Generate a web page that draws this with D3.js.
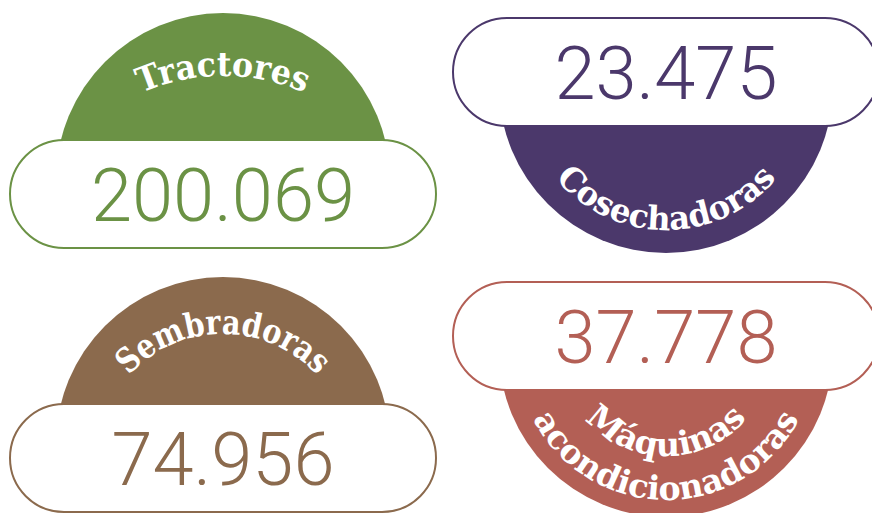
<!DOCTYPE html>
<html>
<head>
<meta charset="utf-8">
<script src="https://cdn.jsdelivr.net/npm/d3@7"></script>
<style>
  body { margin: 0; background: #fff; }
</style>
</head>
<body>
<script>
// datos
var categorias = ["Tractores", "Cosechadoras", "Sembradoras", "Máquinas acondicionadoras"];
var valores = [200069, 23475, 74956, 37778];
var etiquetas = [["Tractores"], ["Cosechadoras"], ["Sembradoras"], ["Máquinas", "acondicionadoras"]];
var colores = ["#6b9245", "#4b386b", "#8b6a4d", "#b35f55"];

var width = 872, height = 513;

var es = d3.formatLocale({decimal: ",", thousands: ".", grouping: [3], currency: ["", "€"]});
var fmt = es.format(",d");

var color = d3.scaleOrdinal().domain(categorias).range(colores);
var colX = d3.scalePoint().domain([0, 1]).range([223, 666]);
var rowY = d3.scalePoint().domain([0, 1]).range([0, 264]);

var pillW = 426, pillH = 108, discR = 167, discOff = 40;

// arcos del texto (radio, desplazamiento de la línea base, longitud)
var arcos = [
  [{r: 205, base: -64, len: 168}],
  [{r: 144, len: 252}],
  [{r: 128, base: -70, len: 212}],
  [{r: 106, len: 184}, {r: 150, len: 328}]
];

var svg = d3.select("body").append("svg")
  .attr("width", width)
  .attr("height", height);

var defs = svg.append("defs");

var items = categorias.map(function(c, i) {
  var col = i % 2, row = Math.floor(i / 2);
  var up = col === 0;
  var top = (up ? 140 : 18) + rowY(row);
  return {
    cat: c, valor: valores[i], lineas: etiquetas[i], i: i, up: up,
    cx: colX(col), top: top,
    cy: up ? top + discOff : top + pillH - discOff
  };
});

var g = svg.selectAll("g.item")
  .data(items)
  .enter().append("g")
  .attr("class", "item");

// recorte del disco: solo la parte fuera de la pastilla
g.each(function(d) {
  defs.append("clipPath")
    .attr("id", "clip-" + d.i)
    .append("rect")
    .attr("x", 0)
    .attr("width", width)
    .attr("y", d.up ? 0 : d.top + pillH - 2)
    .attr("height", d.up ? d.top + 2 : height);
});

g.append("circle")
  .attr("cx", function(d) { return d.cx; })
  .attr("cy", function(d) { return d.cy; })
  .attr("r", discR)
  .attr("clip-path", function(d) { return "url(#clip-" + d.i + ")"; })
  .attr("fill", function(d) { return color(d.cat); });

g.append("rect")
  .attr("x", function(d) { return d.cx - pillW / 2; })
  .attr("y", function(d) { return d.top; })
  .attr("width", pillW)
  .attr("height", pillH)
  .attr("rx", pillH / 2)
  .attr("fill", "#fff")
  .attr("stroke", function(d) { return color(d.cat); })
  .attr("stroke-width", 2);

g.append("text")
  .attr("x", function(d) { return d.cx; })
  .attr("y", function(d) { return d.top + pillH / 2 + 27; })
  .attr("text-anchor", "middle")
  .attr("font-family", "Roboto, sans-serif")
  .attr("font-weight", 300)
  .attr("font-size", 74)
  .attr("fill", function(d) { return color(d.cat); })
  .text(function(d) { return fmt(d.valor); });

// etiquetas curvas
g.each(function(d) {
  var sel = d3.select(this);
  d.lineas.forEach(function(txt, j) {
    var a = arcos[d.i][j];
    var cy = d.up ? d.top + a.base + a.r : d.cy;
    var id = "arc-" + d.i + "-" + j;
    var p = d3.path();
    p.moveTo(d.cx - a.r, cy);
    p.arc(d.cx, cy, a.r, Math.PI, 0, !d.up);
    defs.append("path").attr("id", id).attr("d", p.toString());
    sel.append("text")
      .attr("font-family", "'DejaVu Serif', serif")
      .attr("font-weight", "bold")
      .attr("font-size", d.up ? 34 : 33)
      .attr("fill", "#fff")
      .append("textPath")
      .attr("href", "#" + id)
      .attr("startOffset", "50%")
      .attr("text-anchor", "middle")
      .attr("textLength", a.len)
      .attr("lengthAdjust", "spacingAndGlyphs")
      .text(txt);
  });
});
</script>
</body>
</html>
